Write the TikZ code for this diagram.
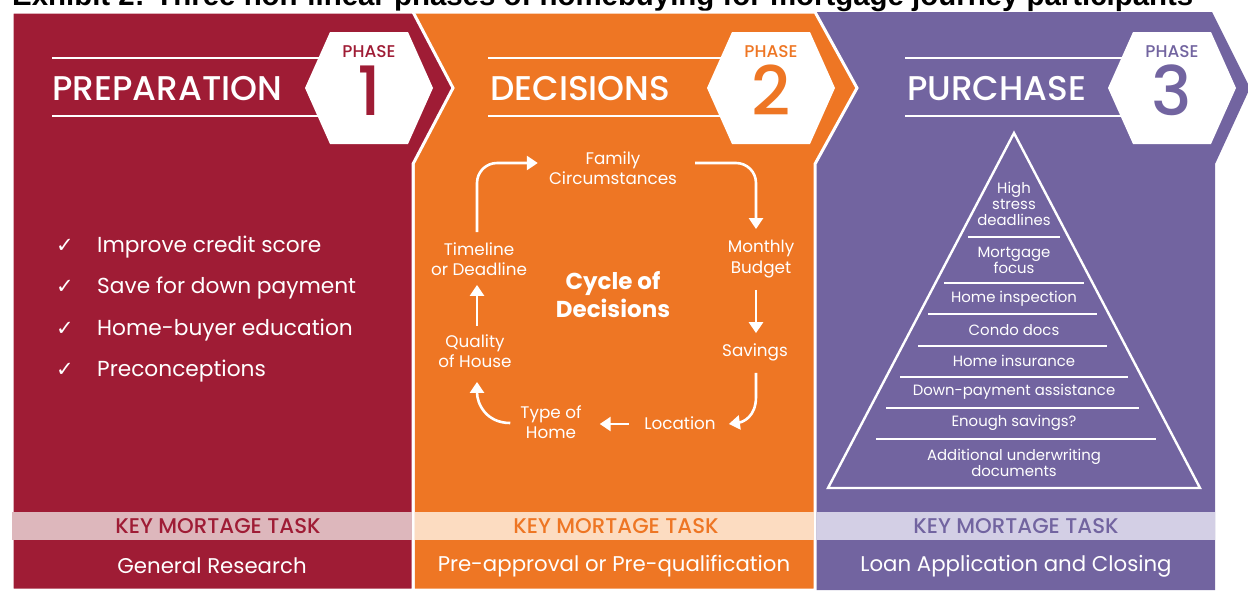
\documentclass[tikz,border=0pt]{standalone}
\usepackage{fontspec}
\setmainfont{Poppins}
\newfontfamily\popmed{Poppins Medium}
\newfontfamily\arialf{Liberation Sans}
\newfontfamily\dejavu{DejaVu Sans}
\usetikzlibrary{arrows.meta,calc}
\definecolor{cred}{HTML}{9F1C35}
\definecolor{corange}{HTML}{EE7624}
\definecolor{cpurple}{HTML}{7264A0}
\definecolor{lred}{HTML}{DDB7BC}
\definecolor{lorange}{HTML}{FCDCC1}
\definecolor{lpurple}{HTML}{D3CFE5}
\begin{document}
\begin{tikzpicture}[x=1pt,y=-1pt,
  cyc/.style={white, line width=2.6pt, -{Triangle[length=11pt,width=14pt]}},
  clab/.style={text=white, font=\fontsize{16.8}{20.5}\selectfont, align=center, inner sep=0pt},
  plab/.style={text=white, font=\fontsize{14.9}{16}\selectfont, align=center, inner sep=0pt},
  pline/.style={white, line width=2pt},
  hline/.style={white, line width=2.4pt},
  head/.style={text=white, font=\popmed\fontsize{34.3}{34}\selectfont, anchor=base west, inner sep=0pt},
  phase/.style={font=\popmed\fontsize{17}{17}\selectfont, anchor=base, inner sep=0pt},
  num/.style={font=\popmed\fontsize{68}{68}\selectfont, anchor=base, inner sep=0pt},
  item/.style={text=white, font=\fontsize{21.7}{22}\selectfont, anchor=base west, inner sep=0pt},
  chk/.style={text=white, font=\dejavu\fontsize{21}{21}\selectfont, anchor=base west, inner sep=0pt},
  key/.style={font=\popmed\fontsize{21.3}{21.3}\selectfont, inner sep=0pt},
  task/.style={text=white, font=\fontsize{21.3}{21.3}\selectfont, inner sep=0pt},
  panel/.style={draw=white, line width=3pt, line join=miter}]
\useasboundingbox (0,0) rectangle (1248,590);
% title (cut off at the top, as in the reference)
\node[anchor=base west, inner sep=0pt] (title) at (12,5)
  {\resizebox{1181pt}{!}{\arialf\bfseries Exhibit 2: Three non-linear phases of homebuying for mortgage journey participants}};
% panels
\fill[cpurple] (815,12) -- (1212,12) -- (1250,88) -- (1215,164) -- (1215,590) -- (815,590) -- cycle;
\filldraw[panel, fill=corange] (413,12) -- (815,12) -- (857,88) -- (815,164) -- (815,590) -- (413,590) -- cycle;
\filldraw[panel, fill=cred] (12,12) -- (413,12) -- (453,88) -- (413,164) -- (413,590) -- (12,590) -- cycle;
% heading lines
\draw[hline] (52,58) -- (340,58) (52,116) -- (340,116);
\draw[hline] (488,58) -- (740,58) (488,116) -- (740,116);
\draw[hline] (905,58) -- (1140,58) (905,116) -- (1140,116);
% hexagons
\fill[white] (305,88) -- (330,32) -- (408,32) -- (433,88) -- (408,144) -- (330,144) -- cycle;
\fill[white] (707,88) -- (732,32) -- (810,32) -- (835,88) -- (810,144) -- (732,144) -- cycle;
\fill[white] (1108,88) -- (1133,32) -- (1211,32) -- (1236,88) -- (1211,144) -- (1133,144) -- cycle;
\node[phase, text=cred] (ph1) at (369,57) {PHASE};
\node[num, text=cred] (n1) at (369,115) {1};
\node[phase, text=corange] (ph2) at (771,57) {PHASE};
\node[num, text=corange] (n2) at (771,115) {2};
\node[phase, text=cpurple] (ph3) at (1172,57) {PHASE};
\node[num, text=cpurple] (n3) at (1172,115) {3};
% headings
\node[head] (h1) at (52,100) {PREPARATION};
\node[head] (h2) at (490,100) {DECISIONS};
\node[head] (h3) at (907,100) {PURCHASE};
% phase 1 list
\node[chk] (c1) at (56,252) {✓};
\node[chk] (c2) at (56,293) {✓};
\node[chk] (c3) at (56,335) {✓};
\node[chk] (c4) at (56,376) {✓};
\node[item] (i1) at (97,252) {Improve credit score};
\node[item] (i2) at (97,293) {Save for down payment};
\node[item] (i3) at (97,335) {Home-buyer education};
\node[item] (i4) at (97,376) {Preconceptions};
% phase 2 cycle
\node[clab] (fam) at (613,168) {Family\\Circumstances};
\node[clab] (mb) at (761,259) {Monthly\\Budget};
\node[clab] (sav) at (755,352) {Savings};
\node[clab] (loc) at (680,423) {Location};
\node[clab] (typ) at (551,422) {Type of\\Home};
\node[clab] (qual) at (475,351) {Quality\\of House};
\node[clab] (tl) at (479,259) {Timeline\\or Deadline};
\node[text=white, font=\bfseries\fontsize{23}{28}\selectfont, align=center, inner sep=0pt] (cyc) at (613,295) {Cycle of\\Decisions};
\draw[cyc, rounded corners=20pt] ($(tl.north)+(-2,-10)$) |- ($(fam.west)+(-11,-5)$);
\draw[cyc, rounded corners=20pt] ($(fam.east)+(18,-5)$) -| ($(mb.north)+(-5,-11)$);
\draw[cyc] ($(mb.south)+(-5,12)$) -- ($(sav.north)+(1,-10)$);
\draw[cyc] ($(sav.south)+(1,12)$) -- ++(0,24) .. controls +(0,20) and +(14,-2) .. ($(loc.east)+(13,1)$);
\draw[cyc] ($(loc.west)+(-15,1)$) -- ($(typ.east)+(18,2)$);
\draw[cyc] ($(typ.west)+(-10,1)$) .. controls +(-24,0) and +(0,22) .. ($(qual.south)+(2,14)$);
\draw[cyc] ($(qual.north)+(2,-8)$) -- ($(tl.south)+(-2,9)$);
% phase 3 pyramid
\draw[white, line width=2.4pt, line join=miter] (1014,133) -- (1200,488) -- (828,488) -- cycle;
\draw[pline] (968,237) -- (1060,237);
\draw[pline] (944,283) -- (1084,283);
\draw[pline] (928,314) -- (1097,314);
\draw[pline] (918,346) -- (1107,346);
\draw[pline] (900,377) -- (1128,377);
\draw[pline] (886,408) -- (1139,408);
\draw[pline] (876,439) -- (1156,439);
\node[plab] (p1) at (1014,204) {High\\stress\\deadlines};
\node[plab] (p2) at (1014,260) {Mortgage\\focus};
\node[plab] (p3) at (1014,299) {Home inspection};
\node[plab] (p4) at (1014,330) {Condo docs};
\node[plab] (p5) at (1014,361) {Home insurance};
\node[plab] (p6) at (1014,392) {Down-payment assistance};
\node[plab] (p7) at (1014,423) {Enough savings?};
\node[plab] (p8) at (1014,463) {Additional underwriting\\documents};
% bottom bands
\fill[lred] (12,512) rectangle (411.5,540);
\fill[lorange] (414.5,512) rectangle (813.5,540);
\fill[lpurple] (816.5,512) rectangle (1215,540);
\node[key, text=cred] (k1) at (218,526) {KEY MORTAGE TASK};
\node[key, text=corange] (k2) at (616,526) {KEY MORTAGE TASK};
\node[key, text=cpurple] (k3) at (1016,526) {KEY MORTAGE TASK};
\node[task] (t1) at (212,566) {General Research};
\node[task] (t2) at (614,566) {Pre-approval or Pre-qualification};
\node[task] (t3) at (1016,566) {Loan Application and Closing};
\end{tikzpicture}
\end{document}
